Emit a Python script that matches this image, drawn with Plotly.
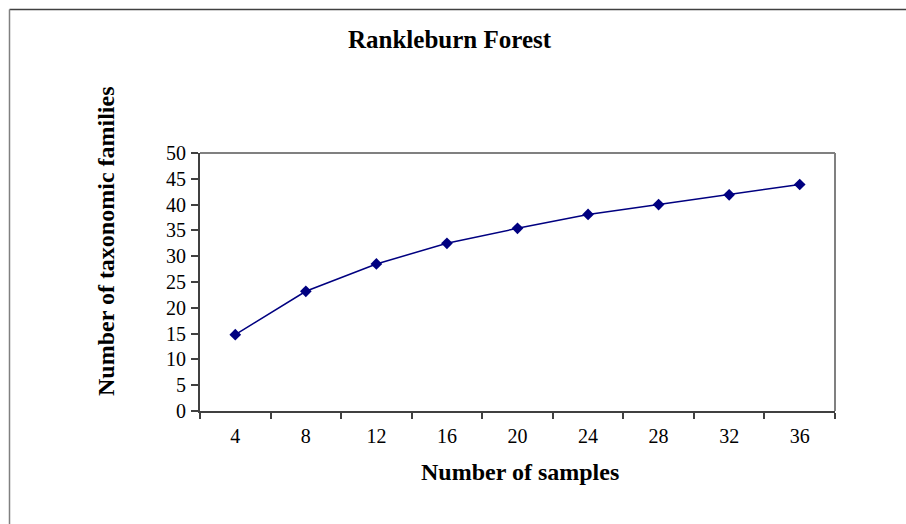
import plotly.graph_objects as go

# Species accumulation: cumulative taxonomic families by number of samples
samples = ["4", "8", "12", "16", "20", "24", "28", "32", "36"]
families = [14.8, 23.2, 28.5, 32.5, 35.4, 38.1, 40.0, 41.9, 43.9]
y_ticks = [0, 5, 10, 15, 20, 25, 30, 35, 40, 45, 50]

W, H = 906, 524
L, R, T, B = 200, 835, 153, 411  # plot-area edges in pixels

SERIF = "Liberation Serif, Times New Roman, serif"
NAVY = "#000080"
DARK = "#404040"
GRAY = "#808080"


def px(x):
    return (x - L) / (R - L)


def py(y):
    return (B - y) / (B - T)


fig = go.Figure()
fig.add_trace(go.Scatter(
    x=samples, y=families, mode="lines+markers",
    line=dict(color=NAVY, width=1.5),
    marker=dict(symbol="diamond", size=9, color=NAVY),
    showlegend=False, hoverinfo="x+y",
))

shapes = [
    # plot-area frame (top and right edges)
    dict(type="line", xref="paper", yref="paper", x0=0, y0=1, x1=1, y1=1,
         line=dict(color=GRAY, width=2)),
    dict(type="line", xref="paper", yref="paper", x0=1, y0=0, x1=1, y1=1,
         line=dict(color=GRAY, width=2)),
    # chart-area border
    dict(type="line", xref="paper", yref="paper", x0=px(9.5), y0=py(9.5),
         x1=px(W + 20), y1=py(9.5), line=dict(color=DARK, width=1.5)),
    dict(type="line", xref="paper", yref="paper", x0=px(9.5), y0=py(9.5),
         x1=px(9.5), y1=py(H + 20), line=dict(color=GRAY, width=1.5)),
]

annotations = [
    dict(text="<b>Rankleburn Forest</b>", xref="paper", yref="paper",
         x=px(450), y=py(39), xanchor="center", yanchor="middle",
         showarrow=False, font=dict(family=SERIF, size=25, color="black")),
    dict(text="<b>Number of samples</b>", xref="paper", yref="paper",
         x=px(520), y=py(472), xanchor="center", yanchor="middle",
         showarrow=False, font=dict(family=SERIF, size=24, color="black")),
    dict(text="<b>Number of taxonomic families</b>", xref="paper", yref="paper",
         x=px(106), y=py(241), xanchor="center", yanchor="middle",
         textangle=-90, showarrow=False,
         font=dict(family=SERIF, size=24, color="black")),
]

fig.update_layout(
    width=W, height=H,
    margin=dict(l=L, r=W - R, t=T, b=H - B, pad=0),
    paper_bgcolor="white", plot_bgcolor="white",
    shapes=shapes, annotations=annotations,
    xaxis=dict(
        type="category", tickson="boundaries", ticks="outside", ticklen=6,
        tickwidth=1.5, tickcolor=DARK, showline=True, linecolor=DARK,
        linewidth=2, showgrid=False, zeroline=False, ticklabelstandoff=6,
        tickfont=dict(family=SERIF, size=20, color="black"),
        range=[-0.5, 8.5],
    ),
    yaxis=dict(
        range=[0, 50], tickvals=y_ticks, ticks="outside", ticklen=7,
        tickwidth=1.5, tickcolor=DARK, showline=True, linecolor=DARK,
        linewidth=2, showgrid=False, zeroline=False, ticklabelstandoff=1,
        tickfont=dict(family=SERIF, size=20, color="black"),
    ),
)

fig.write_html("out.html")
